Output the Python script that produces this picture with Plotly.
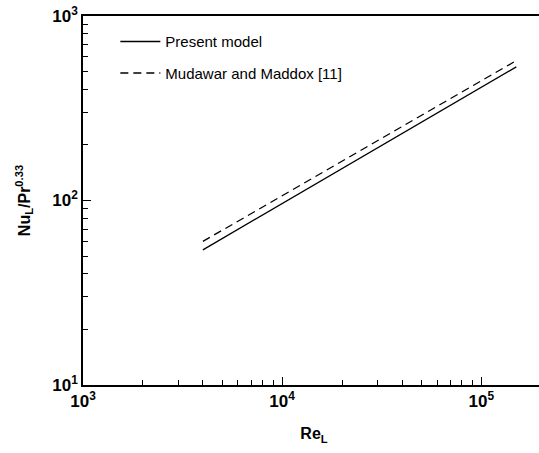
import plotly.graph_objects as go

# Data (log-log straight lines)
re_present = [4000, 150000]
nu_present = [54, 530]
re_mudawar = [4000, 150000]
nu_mudawar = [60, 573]

x_tickvals = [1e3, 1e4, 1e5]
x_ticktext = ["<b>10<sup>3</sup></b>", "<b>10<sup>4</sup></b>", "<b>10<sup>5</sup></b>"]
y_tickvals = [1e1, 1e2, 1e3]
y_ticktext = ["<b>10<sup>1</sup></b>", "<b>10<sup>2</sup></b>", "<b>10<sup>3</sup></b>"]

font_family = "Liberation Sans, Arial, sans-serif"

fig = go.Figure()
fig.add_trace(go.Scatter(x=re_present, y=nu_present, mode="lines",
                         name="Present model", legendgroup="a",
                         line=dict(color="black", width=1.3)))
fig.add_trace(go.Scatter(x=re_mudawar, y=nu_mudawar, mode="lines",
                         name="Mudawar and Maddox [11]", legendgroup="b",
                         line=dict(color="black", width=1.3, dash="8px,5px")))

fig.update_layout(
    width=545, height=453,
    margin=dict(l=83, r=0, t=16, b=68, pad=0),
    plot_bgcolor="white", paper_bgcolor="white",
    font=dict(family=font_family, color="black", size=14),
    showlegend=True,
    legend=dict(x=0.07, y=0.975, xanchor="left", yanchor="top",
                bgcolor="rgba(0,0,0,0)", font=dict(size=15),
                itemwidth=40, tracegroupgap=9, traceorder="grouped"),
    xaxis=dict(type="log", range=[3, 5.32],
               tickvals=x_tickvals, ticktext=x_ticktext,
               ticks="inside", ticklen=8, tickwidth=1, tickcolor="black",
               minor=dict(ticks="inside", ticklen=5, dtick="D1", tickcolor="black", showgrid=False),
               showline=True, linecolor="black", linewidth=1.5, mirror=True,
               showgrid=False, zeroline=False,
               tickfont=dict(size=17, family=font_family),
               title=dict(text="<b>Re<sub>L</sub></b>", font=dict(size=16), standoff=18)),
    yaxis=dict(type="log", range=[1, 3],
               tickvals=y_tickvals, ticktext=y_ticktext,
               ticks="inside", ticklen=8, tickwidth=1, tickcolor="black",
               minor=dict(ticks="inside", ticklen=5, dtick="D1", tickcolor="black", showgrid=False),
               showline=True, linecolor="black", linewidth=1.5, mirror=False,
               showgrid=False, zeroline=False,
               tickfont=dict(size=17, family=font_family),
               title=dict(text="<b>Nu<sub>L</sub>/Pr<sup>0.33</sup></b>", font=dict(size=16), standoff=18)),
)

fig.write_html("out.html", config={"displayModeBar": False})
